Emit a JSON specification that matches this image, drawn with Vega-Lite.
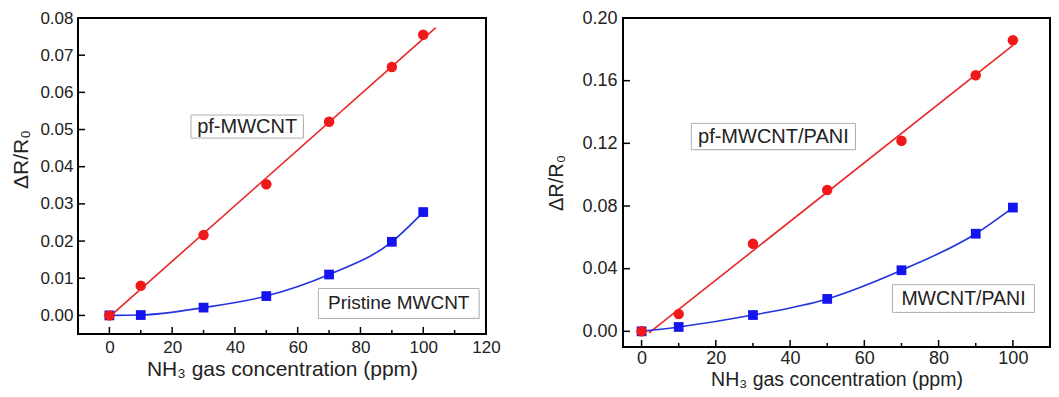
{
  "$schema": "https://vega.github.io/schema/vega-lite/v6.json",
  "background": "white",
  "padding": {"left": 10, "top": 9, "right": 5, "bottom": 2},
  "spacing": 45,
  "datasets": {
    "left": [
      {"ppm": 0, "value": 0, "series": "pf"},
      {"ppm": 10, "value": 0.008, "series": "pf"},
      {"ppm": 30, "value": 0.0216, "series": "pf"},
      {"ppm": 50, "value": 0.0353, "series": "pf"},
      {"ppm": 70, "value": 0.0521, "series": "pf"},
      {"ppm": 90, "value": 0.0668, "series": "pf"},
      {"ppm": 100, "value": 0.0755, "series": "pf"},
      {"ppm": 0, "value": 0, "series": "pristine"},
      {"ppm": 10, "value": 0.0001, "series": "pristine"},
      {"ppm": 30, "value": 0.0021, "series": "pristine"},
      {"ppm": 50, "value": 0.0052, "series": "pristine"},
      {"ppm": 70, "value": 0.011, "series": "pristine"},
      {"ppm": 90, "value": 0.0198, "series": "pristine"},
      {"ppm": 100, "value": 0.0278, "series": "pristine"},
      {"ppm": 0, "value": -0.0004, "series": "fit"},
      {"ppm": 104, "value": 0.0774, "series": "fit"}
    ],
    "right": [
      {"ppm": 0, "value": 0, "series": "pf"},
      {"ppm": 10, "value": 0.011, "series": "pf"},
      {"ppm": 30, "value": 0.0559, "series": "pf"},
      {"ppm": 50, "value": 0.0902, "series": "pf"},
      {"ppm": 70, "value": 0.1217, "series": "pf"},
      {"ppm": 90, "value": 0.1635, "series": "pf"},
      {"ppm": 100, "value": 0.1858, "series": "pf"},
      {"ppm": 0, "value": 0, "series": "pristine"},
      {"ppm": 10, "value": 0.0028, "series": "pristine"},
      {"ppm": 30, "value": 0.0104, "series": "pristine"},
      {"ppm": 50, "value": 0.0207, "series": "pristine"},
      {"ppm": 70, "value": 0.039, "series": "pristine"},
      {"ppm": 90, "value": 0.0623, "series": "pristine"},
      {"ppm": 100, "value": 0.079, "series": "pristine"},
      {"ppm": 2, "value": -0.001, "series": "fit"},
      {"ppm": 100, "value": 0.1825, "series": "fit"}
    ],
    "one": [{"k": 1}],
    "xMajorL": [{"v": 0}, {"v": 20}, {"v": 40}, {"v": 60}, {"v": 80}, {"v": 100}],
    "xMinorL": [{"v": 10}, {"v": 30}, {"v": 50}, {"v": 70}, {"v": 90}, {"v": 110}],
    "yMajorL": [{"v": 0}, {"v": 0.01}, {"v": 0.02}, {"v": 0.03}, {"v": 0.04}, {"v": 0.05}, {"v": 0.06}, {"v": 0.07}],
    "xMajorR": [{"v": 0}, {"v": 20}, {"v": 40}, {"v": 60}, {"v": 80}, {"v": 100}],
    "xMinorR": [{"v": 10}, {"v": 30}, {"v": 50}, {"v": 70}, {"v": 90}],
    "yMajorR": [{"v": 0}, {"v": 0.04}, {"v": 0.08}, {"v": 0.12}, {"v": 0.16}]
  },
  "hconcat": [
    {
      "width": 408,
      "height": 316,
      "data": {"name": "left"},
      "resolve": {"axis": {"x": "independent", "y": "independent"}},
      "layer": [
        {
          "transform": [{"filter": "datum.series === 'fit'"}],
          "mark": {"type": "line", "color": "#ea2626", "strokeWidth": 1.6},
          "encoding": {
            "x": {"field": "ppm", "type": "quantitative",
              "scale": {"domain": [-10, 120], "nice": false, "zero": false},
              "axis": {"orient": "bottom", "values": [0, 20, 40, 60, 80, 100, 120], "labelFontSize": 17, "labelPadding": 5,
                "title": "NH₃ gas concentration (ppm)", "titleFontSize": 21, "titlePadding": 3}},
            "y": {"field": "value", "type": "quantitative",
              "scale": {"domain": [-0.005, 0.08], "nice": false, "zero": false},
              "axis": {"orient": "left", "values": [0, 0.01, 0.02, 0.03, 0.04, 0.05, 0.06, 0.07, 0.08], "format": ".2f", "labelFontSize": 17, "labelPadding": 5,
                "title": "ΔR/R₀", "titleFontSize": 21, "titlePadding": 8, "titleY": 141}}
          }
        },
        {
          "transform": [{"filter": "datum.series === 'pristine'"}],
          "mark": {"type": "line", "color": "#2233dd", "strokeWidth": 1.6, "interpolate": "monotone"},
          "encoding": {
            "x": {"field": "ppm", "type": "quantitative", "axis": null},
            "y": {"field": "value", "type": "quantitative", "axis": null}
          }
        },
        {
          "transform": [{"filter": "datum.series === 'pristine'"}],
          "mark": {"type": "square", "color": "#1414ee", "filled": true, "opacity": 1, "size": 95},
          "encoding": {
            "x": {"field": "ppm", "type": "quantitative", "axis": null},
            "y": {"field": "value", "type": "quantitative", "axis": null}
          }
        },
        {
          "transform": [{"filter": "datum.series === 'pf'"}],
          "mark": {"type": "circle", "color": "#f01818", "opacity": 1, "size": 110},
          "encoding": {
            "x": {"field": "ppm", "type": "quantitative", "axis": null},
            "y": {"field": "value", "type": "quantitative", "axis": null}
          }
        },
        {
          "data": {"name": "xMajorL"},
          "mark": {"type": "tick", "orient": "vertical", "color": "black", "size": 7, "thickness": 1.5, "yOffset": -3.5, "opacity": 1},
          "encoding": {
            "x": {"field": "v", "type": "quantitative", "axis": null},
            "y": {"datum": -0.005, "type": "quantitative", "axis": null}
          }
        },
        {
          "data": {"name": "xMinorL"},
          "mark": {"type": "tick", "orient": "vertical", "color": "black", "size": 4, "thickness": 1.5, "yOffset": -2, "opacity": 1},
          "encoding": {
            "x": {"field": "v", "type": "quantitative", "axis": null},
            "y": {"datum": -0.005, "type": "quantitative", "axis": null}
          }
        },
        {
          "data": {"name": "yMajorL"},
          "mark": {"type": "tick", "orient": "horizontal", "color": "black", "size": 7, "thickness": 1.5, "xOffset": 3.5, "opacity": 1},
          "encoding": {
            "x": {"datum": -10, "type": "quantitative", "axis": null},
            "y": {"field": "v", "type": "quantitative", "axis": null}
          }
        },
        {
          "data": {"name": "one"},
          "mark": {"type": "rect", "filled": false, "stroke": "black", "strokeWidth": 2},
          "encoding": {
            "x": {"datum": -10, "type": "quantitative", "axis": null}, "x2": {"datum": 120},
            "y": {"datum": -0.005, "type": "quantitative", "axis": null}, "y2": {"datum": 0.08}
          }
        },
        {
          "data": {"name": "one"},
          "mark": {"type": "rect", "fill": "black", "xOffset": 4, "yOffset": 5},
          "encoding": {
            "x": {"datum": 26, "type": "quantitative", "axis": null}, "x2": {"datum": 61.8},
            "y": {"datum": 0.0539, "type": "quantitative", "axis": null}, "y2": {"datum": 0.0477}
          }
        },
        {
          "data": {"name": "one"},
          "mark": {"type": "rect", "fill": "white", "stroke": "#b0b0b0", "strokeWidth": 1},
          "encoding": {
            "x": {"datum": 26, "type": "quantitative", "axis": null}, "x2": {"datum": 61.8},
            "y": {"datum": 0.0539, "type": "quantitative", "axis": null}, "y2": {"datum": 0.0477}
          }
        },
        {
          "data": {"values": [{"label": "pf-MWCNT"}]},
          "mark": {"type": "text", "font": "Liberation Sans", "fontSize": 20, "color": "#222", "align": "center", "baseline": "middle"},
          "encoding": {
            "x": {"datum": 43.9, "type": "quantitative", "axis": null},
            "y": {"datum": 0.0508, "type": "quantitative", "axis": null},
            "text": {"field": "label"}
          }
        },
        {
          "data": {"name": "one"},
          "mark": {"type": "rect", "fill": "black", "xOffset": 4, "yOffset": 5},
          "encoding": {
            "x": {"datum": 66.6, "type": "quantitative", "axis": null}, "x2": {"datum": 117.8},
            "y": {"datum": 0.00724, "type": "quantitative", "axis": null}, "y2": {"datum": -0.0008}
          }
        },
        {
          "data": {"name": "one"},
          "mark": {"type": "rect", "fill": "white", "stroke": "#b0b0b0", "strokeWidth": 1},
          "encoding": {
            "x": {"datum": 66.6, "type": "quantitative", "axis": null}, "x2": {"datum": 117.8},
            "y": {"datum": 0.00724, "type": "quantitative", "axis": null}, "y2": {"datum": -0.0008}
          }
        },
        {
          "data": {"values": [{"label": "Pristine MWCNT"}]},
          "mark": {"type": "text", "font": "Liberation Sans", "fontSize": 19, "color": "#222", "align": "center", "baseline": "middle"},
          "encoding": {
            "x": {"datum": 92.2, "type": "quantitative", "axis": null},
            "y": {"datum": 0.0033, "type": "quantitative", "axis": null},
            "text": {"field": "label"}
          }
        }
      ]
    },
    {
      "width": 427,
      "height": 329,
      "data": {"name": "right"},
      "resolve": {"axis": {"x": "independent", "y": "independent"}},
      "layer": [
        {
          "transform": [{"filter": "datum.series === 'fit'"}],
          "mark": {"type": "line", "color": "#ea2626", "strokeWidth": 1.6},
          "encoding": {
            "x": {"field": "ppm", "type": "quantitative",
              "scale": {"domain": [-5, 110], "nice": false, "zero": false},
              "axis": {"orient": "bottom", "values": [0, 20, 40, 60, 80, 100], "labelFontSize": 18, "labelPadding": 2,
                "title": "NH₃ gas concentration (ppm)", "titleFontSize": 19.5, "titlePadding": 3}},
            "y": {"field": "value", "type": "quantitative",
              "scale": {"domain": [-0.01, 0.2], "nice": false, "zero": false},
              "axis": {"orient": "left", "values": [0, 0.04, 0.08, 0.12, 0.16, 0.2], "format": ".2f", "labelFontSize": 18, "labelPadding": 6,
                "title": "ΔR/R₀", "titleFontSize": 20, "titlePadding": 15}}
          }
        },
        {
          "transform": [{"filter": "datum.series === 'pristine'"}],
          "mark": {"type": "line", "color": "#2233dd", "strokeWidth": 1.6, "interpolate": "monotone"},
          "encoding": {
            "x": {"field": "ppm", "type": "quantitative", "axis": null},
            "y": {"field": "value", "type": "quantitative", "axis": null}
          }
        },
        {
          "transform": [{"filter": "datum.series === 'pristine'"}],
          "mark": {"type": "square", "color": "#1414ee", "filled": true, "opacity": 1, "size": 95},
          "encoding": {
            "x": {"field": "ppm", "type": "quantitative", "axis": null},
            "y": {"field": "value", "type": "quantitative", "axis": null}
          }
        },
        {
          "transform": [{"filter": "datum.series === 'pf'"}],
          "mark": {"type": "circle", "color": "#f01818", "opacity": 1, "size": 110},
          "encoding": {
            "x": {"field": "ppm", "type": "quantitative", "axis": null},
            "y": {"field": "value", "type": "quantitative", "axis": null}
          }
        },
        {
          "data": {"name": "xMajorR"},
          "mark": {"type": "tick", "orient": "vertical", "color": "black", "size": 7, "thickness": 1.5, "yOffset": -3.5, "opacity": 1},
          "encoding": {
            "x": {"field": "v", "type": "quantitative", "axis": null},
            "y": {"datum": -0.01, "type": "quantitative", "axis": null}
          }
        },
        {
          "data": {"name": "xMinorR"},
          "mark": {"type": "tick", "orient": "vertical", "color": "black", "size": 4, "thickness": 1.5, "yOffset": -2, "opacity": 1},
          "encoding": {
            "x": {"field": "v", "type": "quantitative", "axis": null},
            "y": {"datum": -0.01, "type": "quantitative", "axis": null}
          }
        },
        {
          "data": {"name": "yMajorR"},
          "mark": {"type": "tick", "orient": "horizontal", "color": "black", "size": 7, "thickness": 1.5, "xOffset": 3.5, "opacity": 1},
          "encoding": {
            "x": {"datum": -5, "type": "quantitative", "axis": null},
            "y": {"field": "v", "type": "quantitative", "axis": null}
          }
        },
        {
          "data": {"name": "one"},
          "mark": {"type": "rect", "filled": false, "stroke": "black", "strokeWidth": 2},
          "encoding": {
            "x": {"datum": -5, "type": "quantitative", "axis": null}, "x2": {"datum": 110},
            "y": {"datum": -0.01, "type": "quantitative", "axis": null}, "y2": {"datum": 0.2}
          }
        },
        {
          "data": {"name": "one"},
          "mark": {"type": "rect", "fill": "black", "xOffset": 3, "yOffset": 5},
          "encoding": {
            "x": {"datum": 13.4, "type": "quantitative", "axis": null}, "x2": {"datum": 57.6},
            "y": {"datum": 0.1327, "type": "quantitative", "axis": null}, "y2": {"datum": 0.1159}
          }
        },
        {
          "data": {"name": "one"},
          "mark": {"type": "rect", "fill": "white", "stroke": "#b0b0b0", "strokeWidth": 1},
          "encoding": {
            "x": {"datum": 13.4, "type": "quantitative", "axis": null}, "x2": {"datum": 57.6},
            "y": {"datum": 0.1327, "type": "quantitative", "axis": null}, "y2": {"datum": 0.1159}
          }
        },
        {
          "data": {"values": [{"label": "pf-MWCNT/PANI"}]},
          "mark": {"type": "text", "font": "Liberation Sans", "fontSize": 20, "color": "#222", "align": "center", "baseline": "middle"},
          "encoding": {
            "x": {"datum": 35.5, "type": "quantitative", "axis": null},
            "y": {"datum": 0.1243, "type": "quantitative", "axis": null},
            "text": {"field": "label"}
          }
        },
        {
          "data": {"name": "one"},
          "mark": {"type": "rect", "fill": "black", "xOffset": 3, "yOffset": 4},
          "encoding": {
            "x": {"datum": 67.6, "type": "quantitative", "axis": null}, "x2": {"datum": 105.8},
            "y": {"datum": 0.0298, "type": "quantitative", "axis": null}, "y2": {"datum": 0.0121}
          }
        },
        {
          "data": {"name": "one"},
          "mark": {"type": "rect", "fill": "white", "stroke": "#b0b0b0", "strokeWidth": 1},
          "encoding": {
            "x": {"datum": 67.6, "type": "quantitative", "axis": null}, "x2": {"datum": 105.8},
            "y": {"datum": 0.0298, "type": "quantitative", "axis": null}, "y2": {"datum": 0.0121}
          }
        },
        {
          "data": {"values": [{"label": "MWCNT/PANI"}]},
          "mark": {"type": "text", "font": "Liberation Sans", "fontSize": 19.5, "color": "#222", "align": "center", "baseline": "middle"},
          "encoding": {
            "x": {"datum": 86.7, "type": "quantitative", "axis": null},
            "y": {"datum": 0.0209, "type": "quantitative", "axis": null},
            "text": {"field": "label"}
          }
        }
      ]
    }
  ],
  "config": {
    "view": {"stroke": null},
    "axis": {
      "domain": false, "grid": false, "ticks": false,
      "labelFont": "Liberation Sans", "labelColor": "#222", "labelFlush": false, "labelOverlap": false,
      "titleFont": "Liberation Sans", "titleColor": "#222", "titleFontWeight": "normal"
    }
  }
}
